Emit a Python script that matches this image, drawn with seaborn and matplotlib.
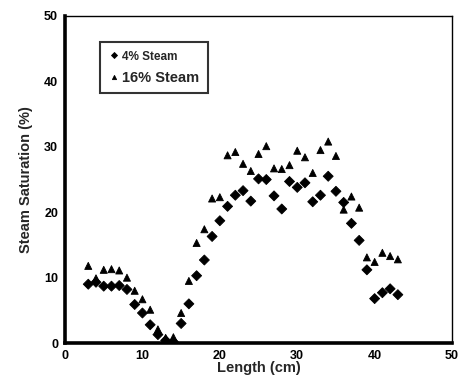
import numpy as np
import pandas as pd
import matplotlib
matplotlib.use('Agg')
import matplotlib.pyplot as plt
import seaborn as sns

# Data
length = list(range(3, 44))
steam_4 = [9.0, 9.3, 8.7, 8.7, 8.8, 8.2, 5.9, 4.6, 2.8, 1.3, 0.4, 0.2, 3.0, 6.0, 10.3,
           12.7, 16.3, 18.7, 20.9, 22.6, 23.3, 21.7, 25.1, 25.0, 22.5, 20.5, 24.7, 23.8,
           24.5, 21.6, 22.6, 25.5, 23.2, 21.5, 18.3, 15.7, 11.2, 6.8, 7.7, 8.3, 7.4]
steam_16 = [11.8, 9.9, 11.2, 11.3, 11.1, 10.0, 8.0, 6.7, 5.1, 2.1, 0.8, 0.9, 4.6, 9.5, 15.3,
            17.4, 22.1, 22.3, 28.7, 29.2, 27.4, 26.3, 28.9, 30.1, 26.7, 26.6, 27.2, 29.4,
            28.4, 26.0, 29.5, 30.8, 28.6, 20.4, 22.4, 20.7, 13.1, 12.4, 13.8, 13.3, 12.8]

df = pd.concat([
    pd.DataFrame({'Length': length, 'Sat': steam_4, 'Series': '4% Steam'}),
    pd.DataFrame({'Length': length, 'Sat': steam_16, 'Series': '16% Steam'}),
])

sns.set_style('white')
plt.rcParams['font.family'] = ['Liberation Sans', 'DejaVu Sans']
plt.rcParams['font.weight'] = 'bold'

fig = plt.figure(figsize=(4.58, 3.89), dpi=100)
ax = fig.add_axes([0.142, 0.118, 0.845, 0.841])

sns.scatterplot(data=df, x='Length', y='Sat', hue='Series', style='Series',
                markers={'4% Steam': 'D', '16% Steam': '^'},
                palette={'4% Steam': 'black', '16% Steam': 'black'},
                s=26, edgecolor='black', linewidth=0.6, ax=ax)

ax.set_xlim(0, 50)
ax.set_ylim(0, 50)
ax.set_xticks(range(0, 51, 10))
ax.set_yticks(range(0, 51, 10))
ax.tick_params(axis='both', direction='inout', length=6, width=1.5,
               labelsize=9, colors='black', pad=2)
for lab in ax.get_xticklabels() + ax.get_yticklabels():
    lab.set_fontweight('bold')

for side in ['left', 'bottom']:
    ax.spines[side].set_linewidth(2.6)
    ax.spines[side].set_color('black')
for side in ['top', 'right']:
    ax.spines[side].set_linewidth(1.0)
    ax.spines[side].set_color('black')

ax.set_xlabel('Length (cm)', fontsize=10.5, fontweight='bold', labelpad=-1)
ax.set_ylabel('Steam Saturation (%)', fontsize=10.5, fontweight='bold', labelpad=8)

leg = ax.legend(loc='upper left', bbox_to_anchor=(0.09, 0.92), frameon=True,
                fancybox=False, edgecolor='black', handletextpad=0.2,
                handlelength=0.8, borderpad=0.6, labelspacing=0.55, markerscale=0.6,
                borderaxespad=0)
leg.get_frame().set_linewidth(1.5)
texts = leg.get_texts()
texts[0].set_fontsize(8.5)
texts[0].set_fontweight('bold')
texts[1].set_fontsize(10.5)
texts[1].set_fontweight('bold')

fig.savefig('out.png', dpi=100)
